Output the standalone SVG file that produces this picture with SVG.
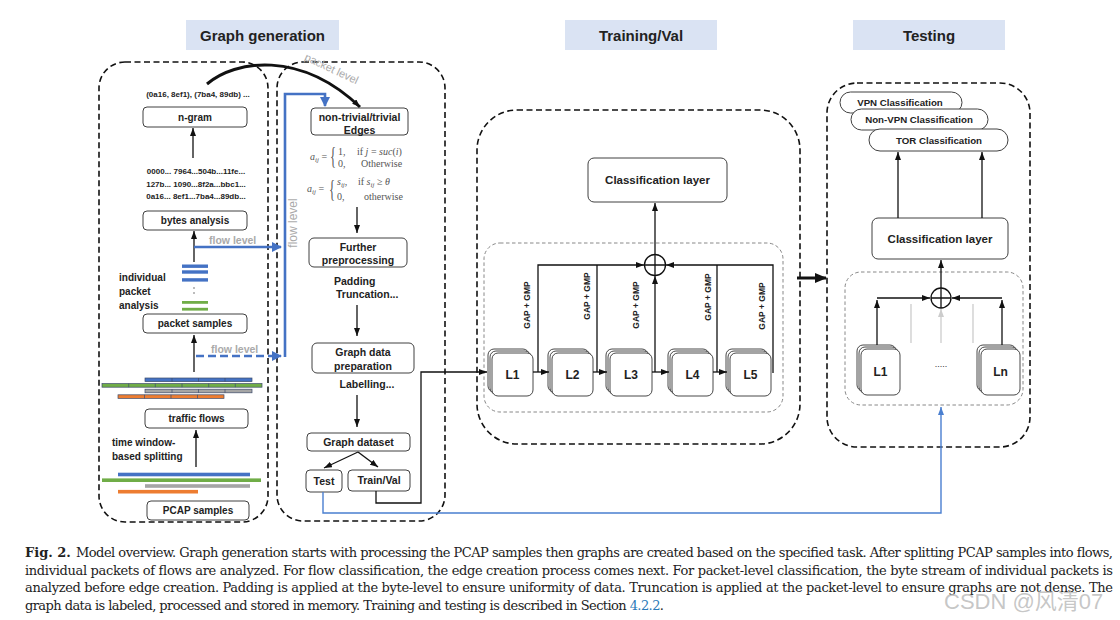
<svg xmlns="http://www.w3.org/2000/svg" width="1120" height="620" viewBox="0 0 1120 620">
<defs>
<style>
.node{fill:#fff;stroke:#404040;stroke-width:1}
.cont{fill:none;stroke:#111;stroke-width:1.6;stroke-dasharray:6,3.5}
.inner{fill:none;stroke:#888;stroke-width:1;stroke-dasharray:3.5,2.5}
.title{fill:#dae3f3}
.tt{font-family:"Liberation Sans",Arial,sans-serif;font-weight:bold;font-size:15px;fill:#222;text-anchor:middle}
.t{font-family:"Liberation Sans",Arial,sans-serif;font-weight:bold;font-size:10px;fill:#222;text-anchor:middle}
.tm{font-family:"Liberation Sans",Arial,sans-serif;font-weight:bold;font-size:10.5px;fill:#222;text-anchor:middle}
.tl{font-family:"Liberation Sans",Arial,sans-serif;font-weight:bold;font-size:10px;fill:#222}
.hex{font-family:"Liberation Sans",Arial,sans-serif;font-weight:bold;font-size:8px;fill:#222;text-anchor:middle}
.big{font-family:"Liberation Sans",Arial,sans-serif;font-weight:bold;font-size:11.5px;fill:#222;text-anchor:middle}
.lab{font-family:"Liberation Sans",Arial,sans-serif;font-weight:bold;font-size:12px;fill:#222;text-anchor:middle}
.gap{font-family:"Liberation Sans",Arial,sans-serif;font-weight:bold;font-size:8.5px;fill:#222;text-anchor:middle}
.cls{font-family:"Liberation Sans",Arial,sans-serif;font-weight:bold;font-size:9.7px;fill:#222;text-anchor:middle}
.gl{font-family:"Liberation Sans",Arial,sans-serif;font-weight:bold;font-size:10.5px;fill:#aaa}
.glr{font-family:"Liberation Sans",Arial,sans-serif;font-size:11px;fill:#aaa;text-anchor:middle}
.f{font-family:"Liberation Serif","Times New Roman",serif;font-size:10px;fill:#555}
.br{font-family:"Liberation Serif","Times New Roman",serif;font-size:25px;fill:#555}
.fi{font-style:italic}
.cap{font-family:"DejaVu Serif","Liberation Serif",serif;font-size:13px;fill:#222}
.ln{fill:none;stroke:#111;stroke-width:1.3}
.blue{fill:none;stroke:#4472c4;stroke-width:2.6}
.lay{fill:#fff;stroke:#333;stroke-width:0.9}
</style>
<marker id="ah" markerUnits="userSpaceOnUse" markerWidth="8" markerHeight="6" refX="8" refY="3" orient="auto"><path d="M0,0 L8,3 L0,6 z" fill="#111"/></marker>
<marker id="ahg" markerUnits="userSpaceOnUse" markerWidth="8" markerHeight="6" refX="8" refY="3" orient="auto"><path d="M0,0 L8,3 L0,6 z" fill="#ccc"/></marker>
<marker id="ahb" markerUnits="userSpaceOnUse" markerWidth="10" markerHeight="10" refX="9" refY="5" orient="auto"><path d="M0,0 L10,5 L0,10 z" fill="#4472c4"/></marker>
<marker id="ahb2" markerUnits="userSpaceOnUse" markerWidth="8" markerHeight="6" refX="8" refY="3" orient="auto"><path d="M0,0 L8,3 L0,6 z" fill="#4a7fd0"/></marker>
<marker id="ahk" markerUnits="userSpaceOnUse" markerWidth="12" markerHeight="10" refX="11" refY="5" orient="auto"><path d="M0,0 L12,5 L0,10 z" fill="#111"/></marker>
</defs>

<!-- Titles -->
<g id="title-graph-generation"><rect class="title" x="186" y="20" width="153" height="30"/><text class="tt" x="262.5" y="40.5">Graph generation</text></g>
<g id="title-training"><rect class="title" x="565" y="20" width="152" height="30"/><text class="tt" x="641" y="40.5">Training/Val</text></g>
<g id="title-testing"><rect class="title" x="853" y="20" width="152" height="30"/><text class="tt" x="929" y="40.5">Testing</text></g>

<!-- Containers -->
<g id="containers">
<rect class="cont" x="99" y="62" width="169" height="460" rx="26"/>
<rect class="cont" x="277" y="62" width="168" height="459" rx="26"/>
<rect class="cont" x="477" y="110" width="323" height="334" rx="40"/>
<rect class="cont" x="827" y="83" width="203" height="364" rx="30"/>
<rect class="inner" x="484" y="243" width="299" height="169" rx="16"/>
<rect class="inner" x="845" y="272" width="178" height="133" rx="16"/>
</g>

<!-- Left column -->
<g id="ngram-text"><text class="hex" x="198" y="97">(0a16, 8ef1), (7ba4, 89db) ...</text></g>
<g id="ngram"><rect class="node" x="143" y="107" width="104" height="20" rx="4"/><text class="t" x="195" y="120.5">n-gram</text></g>
<g id="hex-lines">
<text class="hex" x="196" y="174">0000... 7964...504b...11fe...</text>
<text class="hex" x="196" y="186.5">127b... 1090...8f2a...bbc1...</text>
<text class="hex" x="196" y="199">0a16... 8ef1...7ba4...89db...</text>
</g>
<g id="bytes-analysis"><rect class="node" x="143" y="211" width="104" height="19" rx="4"/><text class="t" x="195" y="224">bytes analysis</text></g>
<g id="packet-analysis">
<rect x="182" y="264.5" width="26" height="3.4" fill="#4472c4"/>
<rect x="182" y="270.3" width="26" height="3.4" fill="#4472c4"/>
<rect x="182" y="278.2" width="26" height="3.4" fill="#4472c4"/>
<circle cx="194" cy="288" r="0.8" fill="#666"/><circle cx="194" cy="293" r="0.8" fill="#666"/>
<rect x="182" y="301" width="26" height="2.8" fill="#70ad47"/>
<rect x="182" y="307.8" width="26" height="2.8" fill="#70ad47"/>
<text class="tl" x="119" y="281">individual</text>
<text class="tl" x="119" y="295">packet</text>
<text class="tl" x="119" y="309">analysis</text>
</g>
<g id="packet-samples"><rect class="node" x="143" y="314" width="104" height="19" rx="4"/><text class="t" x="195" y="327">packet samples</text></g>
<g id="flow-bars" stroke="#3d4c6b" stroke-width="0.7">
<rect x="145" y="378" width="107" height="3.6" fill="#4472c4"/>
<path d="M172,378v3.6M198.5,378v3.6M225,378v3.6"/>
<rect x="102" y="383.6" width="160" height="3.6" fill="#70ad47"/>
<path d="M128.7,383.6v3.6M155.3,383.6v3.6M182,383.6v3.6M208.7,383.6v3.6M235.3,383.6v3.6"/>
<rect x="145" y="389.2" width="107" height="3.6" fill="#a5a5a5"/>
<path d="M172,389.2v3.6M198.5,389.2v3.6M225,389.2v3.6"/>
<rect x="118" y="394.8" width="106" height="3.6" fill="#ed7d31"/>
<path d="M144.5,394.8v3.6M171,394.8v3.6M197.5,394.8v3.6"/>
</g>
<g id="traffic-flows"><rect class="node" x="145" y="409" width="103" height="19" rx="4"/><text class="t" x="196.5" y="422">traffic flows</text></g>
<g id="splitting-text">
<text class="tl" x="112" y="446">time window-</text>
<text class="tl" x="112" y="460">based splitting</text>
</g>
<g id="pcap-bars">
<rect x="118" y="472.7" width="132" height="3.6" fill="#4472c4"/>
<rect x="102" y="478.4" width="159" height="3.6" fill="#70ad47"/>
<rect x="145" y="484.2" width="105" height="3.6" fill="#a5a5a5"/>
<rect x="118" y="489.9" width="80" height="3.6" fill="#ed7d31"/>
</g>
<g id="pcap-samples"><rect class="node" x="147" y="501" width="102" height="19" rx="4"/><text class="t" x="198" y="514">PCAP samples</text></g>

<!-- Middle column -->
<g id="edges"><rect class="node" x="311" y="108" width="97" height="27" rx="4"/><text class="tm" x="359.5" y="120.5">non-trivial/trivial</text><text class="tm" x="359.5" y="133.5">Edges</text></g>
<g id="formula-1">
<text class="f" x="310" y="160"><tspan class="fi">a</tspan><tspan class="fi" font-size="7px" dy="2">ij</tspan><tspan dy="-2"> =</tspan></text>
<text class="br" transform="translate(330,164) scale(0.5,1)">{</text>
<text class="f" x="338" y="155">1,</text><text class="f" x="357" y="155">if <tspan class="fi">j</tspan> = <tspan class="fi">suc</tspan>(<tspan class="fi">i</tspan>)</text>
<text class="f" x="338" y="167">0,</text><text class="f" x="361" y="167">Otherwise</text>
</g>
<g id="formula-2">
<text class="f" x="307" y="192"><tspan class="fi">a</tspan><tspan class="fi" font-size="7px" dy="2">ij</tspan><tspan dy="-2"> =</tspan></text>
<text class="br" transform="translate(329,197) scale(0.5,1)">{</text>
<text class="f" x="337" y="185"><tspan class="fi">s</tspan><tspan class="fi" font-size="7px" dy="2">ij</tspan><tspan dy="-2">,</tspan></text>
<text class="f" x="358" y="185">if <tspan class="fi">s</tspan><tspan class="fi" font-size="7px" dy="2">ij</tspan><tspan dy="-2"> ≥ </tspan><tspan class="fi">θ</tspan></text>
<text class="f" x="337" y="200">0,</text><text class="f" x="364" y="200">otherwise</text>
</g>
<g id="further-preprocessing"><rect class="node" x="309" y="238" width="98" height="29" rx="5"/><text class="tm" x="358" y="251">Further</text><text class="tm" x="358" y="264">preprocessing</text></g>
<g id="padding-text"><text class="tm" x="334" y="285" style="text-anchor:start">Padding</text><text class="tm" x="336" y="298" style="text-anchor:start">Truncation...</text></g>
<g id="graph-data-preparation"><rect class="node" x="312" y="343" width="102" height="30" rx="5"/><text class="tm" x="363" y="356">Graph data</text><text class="tm" x="363" y="370">preparation</text></g>
<g id="labelling-text"><text class="tm" x="367" y="388">Labelling...</text></g>
<g id="graph-dataset"><rect class="node" x="307" y="433" width="103" height="18" rx="4"/><text class="tm" x="358.5" y="446">Graph dataset</text></g>
<g id="test"><rect class="node" x="306" y="470" width="36" height="22" rx="4"/><text class="tm" x="324" y="484.5">Test</text></g>
<g id="trainval"><rect class="node" x="348" y="470" width="62" height="21" rx="4"/><text class="tm" x="379" y="484">Train/Val</text></g>

<!-- Training/Val -->
<g id="train-classification-layer"><rect class="node" x="588" y="158" width="139" height="44" rx="6"/><text class="big" x="657.5" y="184">Classification layer</text></g>
<g id="train-oplus"><circle cx="655" cy="265" r="10.5" fill="#fff" stroke="#111" stroke-width="1.3"/><path d="M644.5,265H665.5M655,254.5V275.5" stroke="#111" stroke-width="1.3"/></g>
<g id="L1-train"><rect class="lay" x="488" y="349" width="41" height="43" rx="6"/><rect class="lay" x="490" y="351" width="41" height="43" rx="6"/><rect class="lay" x="492" y="353" width="41" height="43" rx="6"/><text class="lab" x="512.5" y="379">L1</text></g>
<g id="L2-train"><rect class="lay" x="548" y="349" width="41" height="43" rx="6"/><rect class="lay" x="550" y="351" width="41" height="43" rx="6"/><rect class="lay" x="552" y="353" width="41" height="43" rx="6"/><text class="lab" x="572.5" y="379">L2</text></g>
<g id="L3-train"><rect class="lay" x="606" y="349" width="42" height="43" rx="6"/><rect class="lay" x="608" y="351" width="42" height="43" rx="6"/><rect class="lay" x="610" y="353" width="42" height="43" rx="6"/><text class="lab" x="631" y="379">L3</text></g>
<g id="L4-train"><rect class="lay" x="668" y="349" width="41" height="43" rx="6"/><rect class="lay" x="670" y="351" width="41" height="43" rx="6"/><rect class="lay" x="672" y="353" width="41" height="43" rx="6"/><text class="lab" x="692.5" y="379">L4</text></g>
<g id="L5-train"><rect class="lay" x="726" y="349" width="41" height="43" rx="6"/><rect class="lay" x="728" y="351" width="41" height="43" rx="6"/><rect class="lay" x="730" y="353" width="41" height="43" rx="6"/><text class="lab" x="750.5" y="379">L5</text></g>
<g id="gap-labels">
<text class="gap" transform="translate(527,305) rotate(-90)" x="0" y="3">GAP + GMP</text>
<text class="gap" transform="translate(587,296) rotate(-90)" x="0" y="3">GAP + GMP</text>
<text class="gap" transform="translate(636,305) rotate(-90)" x="0" y="3">GAP + GMP</text>
<text class="gap" transform="translate(708,297) rotate(-90)" x="0" y="3">GAP + GMP</text>
<text class="gap" transform="translate(762,306) rotate(-90)" x="0" y="3">GAP + GMP</text>
</g>

<!-- Testing -->
<g id="vpn-classification"><rect class="node" x="840" y="92" width="122" height="21" rx="10.5"/><text class="cls" x="900" y="106">VPN Classification</text></g>
<g id="nonvpn-classification"><rect class="node" x="851" y="109" width="137" height="21" rx="10.5"/><text class="cls" x="919" y="123">Non-VPN Classification</text></g>
<g id="tor-classification"><rect class="node" x="869" y="129" width="139" height="22" rx="11"/><text class="cls" x="939" y="144">TOR Classification</text></g>
<g id="test-classification-layer"><rect class="node" x="872" y="218" width="136" height="41" rx="6"/><text class="big" x="940" y="243">Classification layer</text></g>
<g id="test-oplus"><circle cx="941" cy="298" r="10" fill="#fff" stroke="#111" stroke-width="1.3"/><path d="M931,298H951M941,288V308" stroke="#111" stroke-width="1.3"/></g>
<g id="L1-test"><rect class="lay" x="857" y="345" width="39" height="46" rx="6"/><rect class="lay" x="859" y="347" width="39" height="46" rx="6"/><rect class="lay" x="861" y="349" width="39" height="46" rx="6"/><text class="lab" x="880.5" y="376">L1</text></g>
<g id="dots-test"><text x="941" y="367" style="font-family:'Liberation Sans',Arial,sans-serif;font-size:9px;fill:#333;text-anchor:middle">.....</text></g>
<g id="Ln-test"><rect class="lay" x="977" y="345" width="39" height="46" rx="6"/><rect class="lay" x="979" y="347" width="39" height="46" rx="6"/><rect class="lay" x="981" y="349" width="39" height="46" rx="6"/><text class="lab" x="1000.5" y="376">Ln</text></g>

<!-- Connectors -->
<g id="connectors">
<path class="ln" d="M193,158V128" marker-end="url(#ah)"/>
<path class="ln" d="M194,262V231" marker-end="url(#ah)"/>
<path class="ln" d="M194,372V335" marker-end="url(#ah)"/>
<path class="ln" d="M196,467V430" marker-end="url(#ah)"/>
<path class="blue" d="M194,247H281" marker-end="url(#ahb)"/>
<path class="blue" d="M196,356H281" stroke-dasharray="8,4" marker-end="url(#ahb)"/>
<path class="blue" d="M285,357V94H325V106" marker-end="url(#ahb)"/>
<path d="M207,84C235,60 300,50 360,107" fill="none" stroke="#111" stroke-width="3" marker-end="url(#ah)"/>
<path class="ln" d="M357,207V233" marker-end="url(#ah)"/>
<path class="ln" d="M357,305V336" marker-end="url(#ah)"/>
<path class="ln" d="M357,395V427" marker-end="url(#ah)"/>
<path class="ln" d="M358,452L324,468" marker-end="url(#ah)"/>
<path class="ln" d="M358,452L378,467" marker-end="url(#ah)"/>
<path class="ln" d="M376,491V503H421V372H487" stroke-width="1.6" marker-end="url(#ah)"/>
<path d="M323,492V513H941V407" fill="none" stroke="#4a7fd0" stroke-width="1.4" marker-end="url(#ahb2)"/>
<path class="ln" d="M533,372H549" marker-end="url(#ah)"/>
<path class="ln" d="M593,372H607" marker-end="url(#ah)"/>
<path class="ln" d="M652,372H669" marker-end="url(#ah)"/>
<path class="ln" d="M713,372H727" marker-end="url(#ah)"/>
<path class="ln" d="M538,372V265H644" marker-end="url(#ah)"/>
<path class="ln" d="M597,372V265"/>
<path class="ln" d="M655,372V276" marker-end="url(#ah)"/>
<path class="ln" d="M717,372V265"/>
<path class="ln" d="M773,373V265H666" marker-end="url(#ah)"/>
<path class="ln" d="M655,254V203" marker-end="url(#ah)"/>
<path d="M797,278H826" fill="none" stroke="#111" stroke-width="3" marker-end="url(#ahk)"/>
<path class="ln" d="M877,345V300" marker-end="url(#ah)"/>
<path class="ln" d="M1002,345V300" marker-end="url(#ah)"/>
<path class="ln" d="M877,298H930" marker-end="url(#ah)"/>
<path class="ln" d="M1002,298H952" marker-end="url(#ah)"/>
<path d="M911,304V343M973,304V343" fill="none" stroke="#ccc" stroke-width="1.3"/>
<path d="M941,343V309" fill="none" stroke="#ccc" stroke-width="1.3" marker-end="url(#ahg)"/>
<path class="ln" d="M941,288V260" marker-end="url(#ah)"/>
<path class="ln" d="M898,218V152" marker-end="url(#ah)"/>
<path class="ln" d="M982,218V152" marker-end="url(#ah)"/>
</g>

<!-- connector labels -->
<g id="connector-labels">
<text class="gl" x="209" y="244">flow level</text>
<text class="gl" x="211" y="353">flow level</text>
<text class="glr" style="font-size:12px" transform="translate(297,223) rotate(-90)">flow level</text>
<text class="glr" transform="translate(330,72) rotate(25)">packet level</text>
</g>

<!-- Caption -->
<g id="caption">
<text class="cap" x="25" y="557" style="font-weight:bold">Fig. 2.</text>
<text class="cap" x="76" y="557" textLength="1037" lengthAdjust="spacing">Model overview. Graph generation starts with processing the PCAP samples then graphs are created based on the specified task. After splitting PCAP samples into flows,</text>
<text class="cap" x="25" y="575" textLength="1088" lengthAdjust="spacing">individual packets of flows are analyzed. For flow classification, the edge creation process comes next. For packet-level classification, the byte stream of individual packets is</text>
<text class="cap" x="25" y="592" textLength="1088" lengthAdjust="spacing">analyzed before edge creation. Padding is applied at the byte-level to ensure uniformity of data. Truncation is applied at the packet-level to ensure graphs are not dense. The</text>
<text class="cap" x="25" y="610" textLength="639" lengthAdjust="spacing">graph data is labeled, processed and stored in memory. Training and testing is described in Section <tspan fill="#2a7ab8">4.2.2</tspan>.</text>
</g>
<g id="watermark"><text x="944" y="609" font-family="'Liberation Sans','Noto Sans CJK SC',sans-serif" font-size="22px" fill="#b8b8b8" fill-opacity="0.8">CSDN @风清07</text></g>
</svg>
